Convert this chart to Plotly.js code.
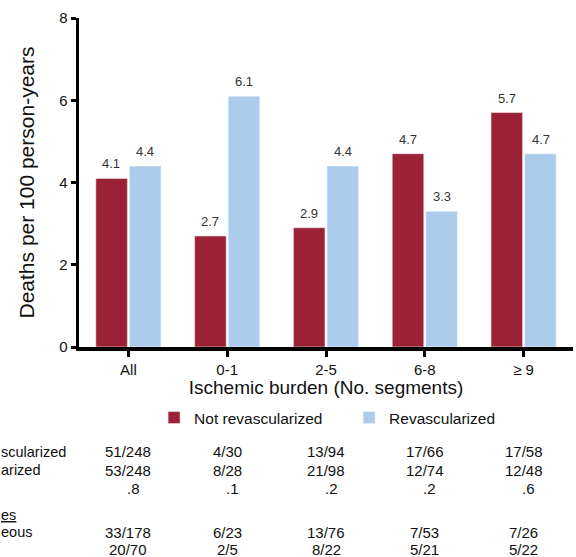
<!DOCTYPE html>
<html>
<head>
<meta charset="utf-8">
<script src="https://cdn.plot.ly/plotly-3.0.1.min.js"></script>
<style>html,body{margin:0;padding:0;background:#fff;}#chart{width:576px;height:557px;}</style>
</head>
<body>
<div id="chart"></div>
<script>
const categories = ['All', '0-1', '2-5', '6-8', '≥ 9'];
const notRevasc = [4.1, 2.7, 2.9, 4.7, 5.7];
const revasc = [4.4, 6.1, 4.4, 3.3, 4.7];
const rowNotRevasc = ['51/248', '4/30', '13/94', '17/66', '17/58'];
const rowRevasc = ['53/248', '8/28', '21/98', '12/74', '12/48'];
const rowP = ['.8', '.1', '.2', '.2', '.6'];
const rowSpont = ['33/178', '6/23', '13/76', '7/53', '7/26'];
const rowLast = ['20/70', '2/5', '8/22', '5/21', '5/22'];
const rowLabels = ['scularized', 'arized', '', '<u>es</u>', 'eous', ''];

const RED = '#9b2136';
const BLUE = '#abcdeb';
const FONT = 'Liberation Sans, Arial, Helvetica, sans-serif';

const traces = [
  {type: 'bar', name: 'Not revascularized', x: categories, y: notRevasc,
   marker: {color: RED, line: {color: '#f3e6e8', width: 0.6}}},
  {type: 'bar', name: 'Revascularized', x: categories, y: revasc,
   marker: {color: BLUE, line: {color: '#eef5fb', width: 0.6}}}
];

const T = 18, B = 347;
function py(p) { return (B - p) / (B - T); }

const annotations = [];
// value labels above bars
[[notRevasc, -17], [revasc, 17]].forEach(([vals, xs]) => {
  vals.forEach((v, i) => {
    annotations.push({xref: 'x', yref: 'y', x: i, y: v, text: v.toFixed(1),
      showarrow: false, xanchor: 'center', yanchor: 'bottom', xshift: xs, yshift: 5,
      font: {size: 13, color: '#333', family: FONT}});
  });
});
const rows = [
  [rowNotRevasc, 452, 0],
  [rowRevasc, 470, 0],
  [rowP, 488, 5],
  [rowSpont, 532, 0],
  [rowLast, 549, 0]
];
rows.forEach(([vals, yp, xs]) => {
  vals.forEach((t, i) => {
    annotations.push({xref: 'x', yref: 'paper', x: i, y: py(yp), text: t,
      showarrow: false, xanchor: 'center', yanchor: 'middle', xshift: xs,
      font: {size: 15, color: '#111', family: FONT}});
  });
});
const labelY = [452, 470, 488, 515, 532, 549];
rowLabels.forEach((t, i) => {
  if (!t) return;
  annotations.push({xref: 'paper', yref: 'paper', x: (0 - 78.5) / 495, y: py(labelY[i]),
    text: t, showarrow: false, xanchor: 'left', yanchor: 'middle', xshift: -2,
    font: {size: 14.5, color: '#111', family: FONT}});
});

const layout = {
  width: 576, height: 557,
  margin: {l: 78.5, r: 2.5, t: T, b: 557 - B, pad: 0},
  paper_bgcolor: '#fff', plot_bgcolor: '#fff',
  font: {family: FONT, color: '#111'},
  barmode: 'group', bargap: 0.32, bargroupgap: 0.06,
  showlegend: true,
  legend: {orientation: 'h', x: 0.152, y: py(401), xanchor: 'left', yanchor: 'top',
    font: {size: 15.5, color: '#111', family: FONT}, entrywidth: 150, entrywidthmode: 'pixels',
    itemwidth: 30, traceorder: 'normal', bgcolor: 'rgba(0,0,0,0)'},
  xaxis: {showline: true, linewidth: 3.5, linecolor: '#000', ticks: 'outside', ticklen: 6,
    tickwidth: 3, tickcolor: '#000', showgrid: false, zeroline: false,
    tickfont: {size: 15, color: '#111', family: FONT},
    title: {text: 'Ischemic burden (No. segments)', font: {size: 19, color: '#111', family: FONT}, standoff: 4},
    range: [-0.5, 4.5], fixedrange: true},
  yaxis: {showline: true, linewidth: 3.5, linecolor: '#000', ticks: 'outside', ticklen: 5,
    tickwidth: 3, tickcolor: '#000', showgrid: false, zeroline: false,
    range: [0, 8], tickvals: [0, 2, 4, 6, 8], ticktext: ['0', '2', '4', '6', '8'],
    tickfont: {size: 15, color: '#111', family: FONT},
    title: {text: 'Deaths per 100 person-years', font: {size: 21, color: '#111', family: FONT}, standoff: 20},
    fixedrange: true},
  annotations: annotations
};

Plotly.newPlot('chart', traces, layout, {displayModeBar: false, staticPlot: true});
</script>
</body>
</html>
